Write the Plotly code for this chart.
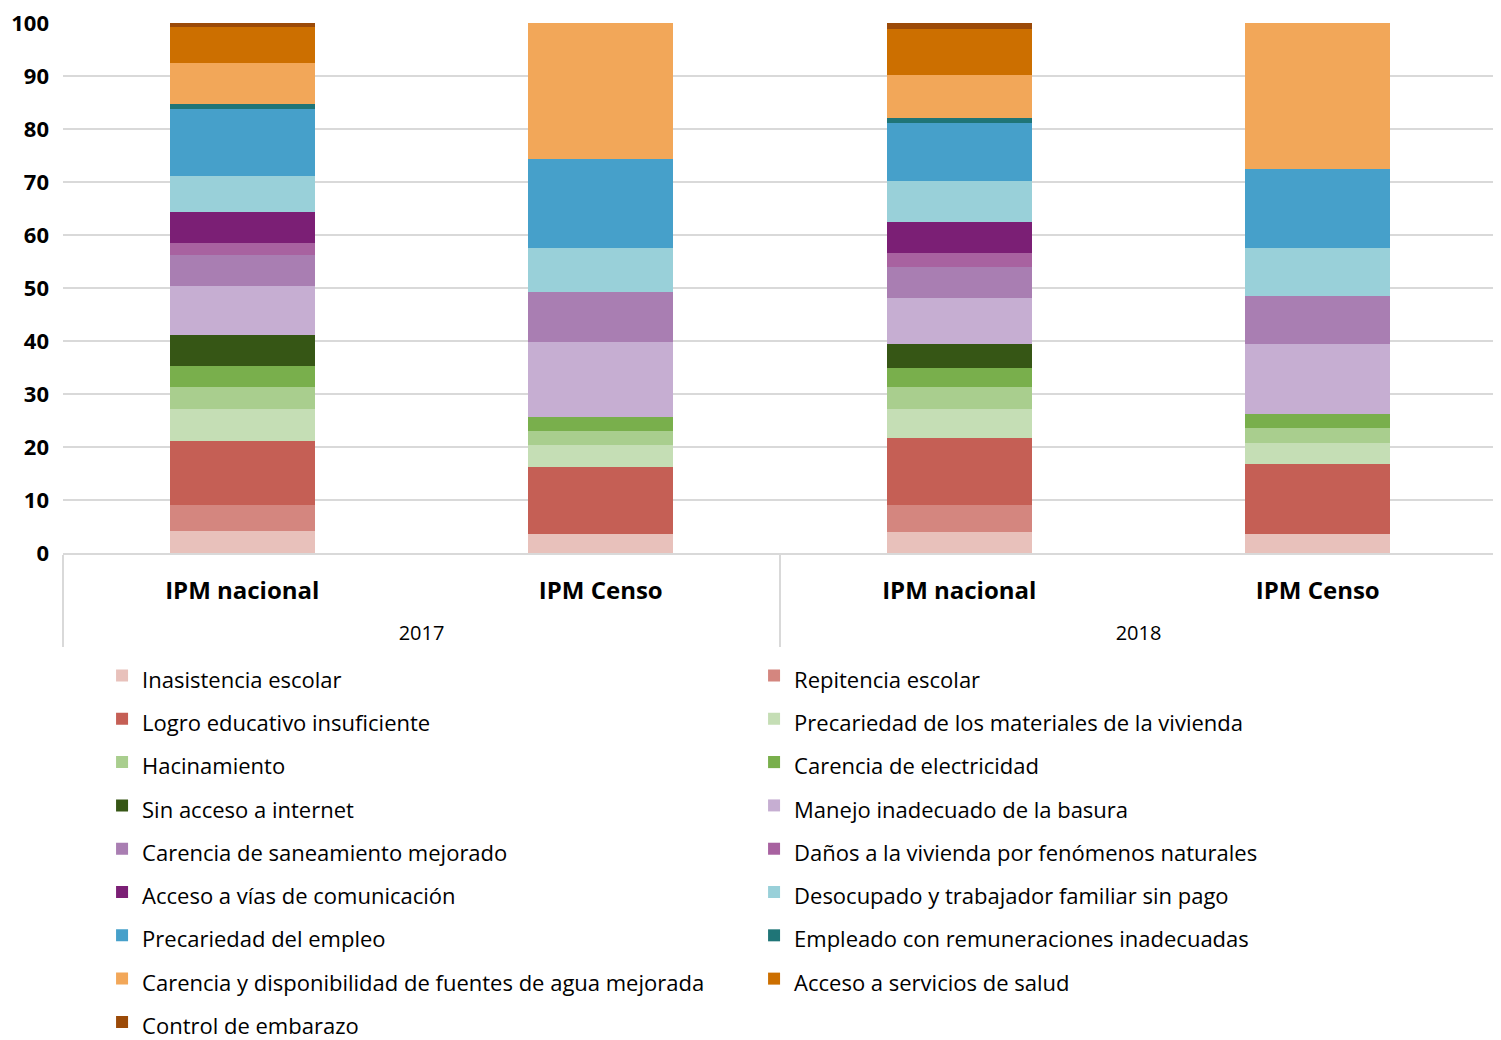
import plotly.graph_objects as go

years = ["2017", "2017", "2018", "2018"]
measures = ["IPM nacional", "IPM Censo", "IPM nacional", "IPM Censo"]

inasistencia = [4.1, 3.5, 4.0, 3.6]
repitencia = [5.0, 0, 5.1, 0]
logro = [12.0, 12.7, 12.6, 13.1]
materiales = [6.1, 4.2, 5.5, 4.1]
hacinamiento = [4.1, 2.7, 4.1, 2.8]
electricidad = [4.0, 2.6, 3.6, 2.6]
internet = [5.8, 0, 4.5, 0]
basura = [9.2, 14.1, 8.7, 13.3]
saneamiento = [5.9, 9.4, 5.8, 8.9]
danos = [2.3, 0, 2.7, 0]
vias = [5.8, 0, 5.9, 0]
desocupado = [6.9, 8.3, 7.7, 9.1]
empleo = [12.6, 16.8, 10.9, 15.0]
remuneraciones = [0.9, 0, 0.9, 0]
agua = [7.8, 25.7, 8.2, 27.5]
salud = [6.8, 0, 8.6, 0]
embarazo = [0.7, 0, 1.2, 0]

series = [
    ("Inasistencia escolar", inasistencia, "#E8C1BB"),
    ("Repitencia escolar", repitencia, "#D4867F"),
    ("Logro educativo insuficiente", logro, "#C55F55"),
    ("Precariedad de los materiales de la vivienda", materiales, "#C5DEB5"),
    ("Hacinamiento", hacinamiento, "#A9CE8E"),
    ("Carencia de electricidad", electricidad, "#79AF4C"),
    ("Sin acceso a internet", internet, "#365615"),
    ("Manejo inadecuado de la basura", basura, "#C6AED2"),
    ("Carencia de saneamiento mejorado", saneamiento, "#A97EB2"),
    ("Daños a la vivienda por fenómenos naturales", danos, "#A862A0"),
    ("Acceso a vías de comunicación", vias, "#7B1F75"),
    ("Desocupado y trabajador familiar sin pago", desocupado, "#99D0D9"),
    ("Precariedad del empleo", empleo, "#46A0CA"),
    ("Empleado con remuneraciones inadecuadas", remuneraciones, "#1F7577"),
    ("Carencia y disponibilidad de fuentes de agua mejorada", agua, "#F2A759"),
    ("Acceso a servicios de salud", salud, "#CC6F00"),
    ("Control de embarazo", embarazo, "#9B4A08"),
]

FONT = "Open Sans"

inner_labels = ["<span style='font-size:24px'><b>" + m + "</b></span>" for m in measures]
outer_labels = ["<span style='font-size:20px'>" + y + "</span>" for y in years]

fig = go.Figure()
for name, vals, color in series:
    fig.add_trace(go.Bar(
        x=[outer_labels, inner_labels], y=vals,
        name="<span style='font-size:22px'>" + name + "</span>",
        marker=dict(color=color, line=dict(width=0)),
    ))

fig.update_layout(
    barmode="stack",
    bargap=0.596,
    width=1493, height=1032,
    margin=dict(l=55, r=4, t=15, b=487, autoexpand=False),
    paper_bgcolor="white", plot_bgcolor="white",
    font=dict(family=FONT, color="black"),
    showlegend=True,
    legend=dict(
        orientation="h",
        xref="container", yref="container",
        x=0.063, xanchor="left",
        y=0.379, yanchor="top",
        font=dict(size=31, family=FONT, color="black"),
        entrywidth=607, entrywidthmode="pixels",
        traceorder="normal",
        bgcolor="rgba(0,0,0,0)",
    ),
    yaxis=dict(
        range=[0, 100], dtick=10,
        showgrid=True, gridcolor="#D9D9D9", gridwidth=2,
        zeroline=False,
        tickfont=dict(size=22, family=FONT, color="black", weight="bold"),
        ticklabelstandoff=13,
        ticklabeloverflow="allow",
        showline=False,
        automargin=False,
    ),
    xaxis=dict(
        type="multicategory",
        showline=True, linecolor="#D9D9D9", linewidth=2,
        showdividers=True, dividercolor="#D9D9D9", dividerwidth=2,
        tickfont=dict(size=42, family=FONT, color="black"),
        ticks="", ticklabelstandoff=-6,
        automargin=False,
    ),
)

fig.write_html("out.html")
